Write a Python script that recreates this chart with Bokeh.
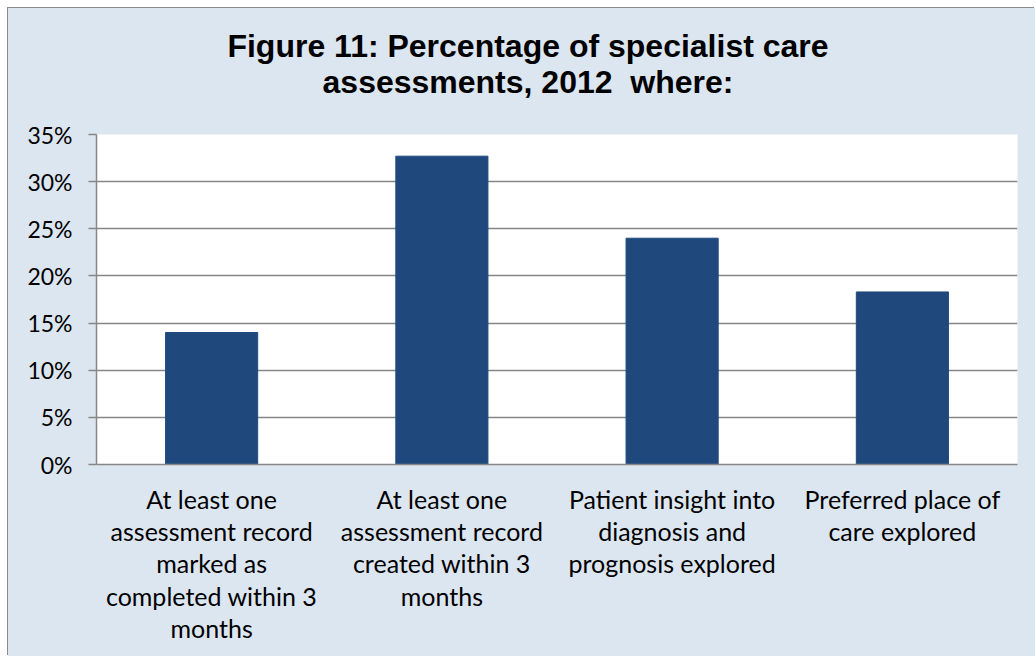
from bokeh.plotting import figure
from bokeh.models import NumeralTickFormatter, FixedTicker, Div
from bokeh.layouts import column
from bokeh.embed import file_html
from bokeh.resources import INLINE

categories = [
    "At least one\nassessment record\nmarked as\ncompleted within 3\nmonths",
    "At least one\nassessment record\ncreated within 3\nmonths",
    "Patient insight into\ndiagnosis and\nprognosis explored",
    "Preferred place of\ncare explored",
]
values = [0.140, 0.327, 0.240, 0.183]
y_ticks = [0, 0.05, 0.10, 0.15, 0.20, 0.25, 0.30, 0.35]
title_lines = ["Figure 11: Percentage of specialist care", "assessments, 2012&nbsp; where:"]

BG = "#dce6f1"
GRID = "#868686"
EDGE = "#8a8a8a"
BAR = "#1f497d"
FONT = "Lato"
Y_MAX = 0.35
OFF = 8                 # chart block starts 8px from the page corner
W, H = 1027, 648        # leaves 1px slack inside the 1036x657 window
TITLE_H = 102

# title block (HTML text, centred lines)
title = Div(
    text=('<div style="margin-left:20px; width:1000px; padding-top:20px; text-align:center; '
          'font-family:\'Liberation Sans\'; font-weight:bold; font-size:32px; line-height:36px; '
          'color:black;">' + "<br>".join(title_lines) + "</div>"),
    width=W, height=TITLE_H, margin=0,
    styles={"background-color": BG},
)

fig_h = H - TITLE_H
frame_top, frame_bottom, frame_left, frame_right = 134, 464, 96, 1017
p = figure(
    x_range=categories, y_range=(0, Y_MAX),
    width=W, height=fig_h,
    output_backend="svg", toolbar_location=None,
    min_border_left=frame_left - OFF,
    min_border_right=OFF + W - frame_right,
    min_border_top=frame_top - OFF - TITLE_H,
    min_border_bottom=OFF + TITLE_H + fig_h - frame_bottom,
    title=None, margin=0,
)
p.background_fill_color = "white"
p.border_fill_color = BG
p.outline_line_color = None

p.vbar(x=categories, top=values, width=0.4, color=BAR)

# y axis
p.yaxis.ticker = FixedTicker(ticks=y_ticks)
p.yaxis.formatter = NumeralTickFormatter(format="0%")
p.yaxis.axis_line_color = GRID
p.yaxis.axis_line_width = 1.5
p.yaxis.major_tick_line_color = GRID
p.yaxis.major_tick_line_width = 1.5
p.yaxis.major_tick_out = 8
p.yaxis.major_tick_in = 0
p.yaxis.minor_tick_line_color = None
p.yaxis.major_label_text_font = FONT
p.yaxis.major_label_text_font_size = "23px"
p.yaxis.major_label_text_color = "black"
p.yaxis.major_label_standoff = 16

# x axis (multi-line category labels)
p.xaxis.axis_line_color = GRID
p.xaxis.axis_line_width = 1.5
p.xaxis.major_tick_line_color = None
p.xaxis.minor_tick_line_color = None
p.xaxis.major_tick_out = 0
p.xaxis.major_tick_in = 0
p.xaxis.major_label_text_font = FONT
p.xaxis.major_label_text_font_size = "25px"
p.xaxis.major_label_text_color = "black"
p.xaxis.major_label_text_line_height = 1.08
p.xaxis.major_label_orientation = "horizontal"
p.xaxis.major_label_standoff = 19

p.xgrid.grid_line_color = None
p.ygrid.grid_line_color = GRID
p.ygrid.grid_line_width = 1.5

layout = column(title, p, spacing=0, margin=(OFF, 0, 0, OFF),
                styles={"background-color": BG, "box-shadow": f"-1px -1px 0 0 {EDGE}"})
open("out.html", "w").write(file_html(layout, INLINE))
